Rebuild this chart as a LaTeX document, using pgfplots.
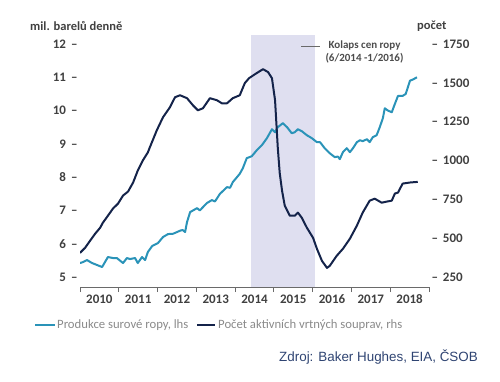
\documentclass[border=0pt]{standalone}
\usepackage{fontspec}
\setmainfont{Carlito}
\newfontfamily\arialfont{Liberation Sans}
\usepackage{pgfplots}
\pgfplotsset{compat=1.18}
\definecolor{prodblue}{HTML}{2A93B8}
\definecolor{rignavy}{HTML}{14234A}
\definecolor{shadecol}{HTML}{DFDFF0}
\definecolor{ticktext}{HTML}{404040}
\definecolor{legtext}{HTML}{8A8A8A}
\definecolor{srccol}{HTML}{2F4472}
\definecolor{axiscol}{HTML}{6A6A6A}

\pgfplotstableread{
x y
2010.00 5.42
2010.08 5.45
2010.18 5.51
2010.31 5.42
2010.44 5.36
2010.57 5.30
2010.72 5.60
2010.85 5.57
2010.95 5.57
2011.11 5.42
2011.21 5.57
2011.29 5.54
2011.42 5.57
2011.49 5.42
2011.60 5.60
2011.68 5.51
2011.75 5.75
2011.86 5.93
2012.01 6.02
2012.14 6.20
2012.27 6.29
2012.40 6.30
2012.50 6.35
2012.60 6.40
2012.65 6.41
2012.71 6.35
2012.76 6.65
2012.84 6.95
2013.02 7.07
2013.09 7.00
2013.27 7.22
2013.40 7.31
2013.48 7.27
2013.61 7.50
2013.79 7.70
2013.87 7.68
2013.94 7.85
2014.12 8.10
2014.20 8.27
2014.30 8.57
2014.43 8.63
2014.56 8.81
2014.69 8.96
2014.82 9.17
2014.95 9.44
2015.03 9.35
2015.10 9.50
2015.23 9.62
2015.34 9.50
2015.46 9.32
2015.54 9.35
2015.62 9.44
2015.72 9.38
2015.85 9.26
2015.98 9.17
2016.11 9.05
2016.19 9.05
2016.31 8.87
2016.44 8.72
2016.57 8.60
2016.65 8.62
2016.70 8.54
2016.78 8.75
2016.88 8.87
2016.96 8.75
2017.04 8.87
2017.14 9.05
2017.22 9.11
2017.29 9.08
2017.40 9.14
2017.47 9.05
2017.55 9.20
2017.65 9.26
2017.73 9.50
2017.81 9.77
2017.86 10.07
2017.94 10.00
2018.04 9.95
2018.12 10.20
2018.20 10.44
2018.32 10.44
2018.40 10.50
2018.51 10.90
2018.58 10.93
2018.69 11.00
}\prodtable

\pgfplotstableread{
x y
2010.00 405
2010.13 437
2010.26 483
2010.39 528
2010.52 567
2010.59 599
2010.72 644
2010.85 690
2010.98 722
2011.11 774
2011.24 800
2011.37 858
2011.49 935
2011.62 1000
2011.75 1052
2011.80 1084
2011.98 1194
2012.14 1278
2012.32 1343
2012.45 1407
2012.58 1420
2012.76 1401
2012.91 1356
2013.04 1323
2013.17 1336
2013.35 1401
2013.53 1388
2013.66 1368
2013.79 1368
2013.94 1401
2014.12 1420
2014.25 1498
2014.36 1530
2014.54 1560
2014.72 1588
2014.85 1569
2014.95 1530
2015.03 1388
2015.10 1084
2015.15 920
2015.21 806
2015.28 709
2015.41 644
2015.54 644
2015.62 664
2015.72 631
2015.85 567
2016.01 502
2016.11 431
2016.24 353
2016.37 308
2016.44 321
2016.62 386
2016.78 431
2016.96 496
2017.14 580
2017.29 664
2017.47 741
2017.60 754
2017.78 728
2017.91 735
2018.04 741
2018.12 787
2018.20 793
2018.32 851
2018.51 858
2018.71 862
}\rigtable

\begin{document}
\begin{tikzpicture}[x=1pt,y=1pt]
\pgfplotsset{
  common/.style={
    at={(80pt,94pt)}, anchor=south west, scale only axis,
    width=349pt, height=252pt,
    xmin=2010, xmax=2019,
    /pgf/number format/assume math mode=true,
    /pgf/number format/1000 sep={},
    ticklabel style={font=\fontsize{13}{15}\selectfont\bfseries, text=ticktext},
    tick align=outside, major tick length=5pt,
  }}
\begin{axis}[common,
  ymin=4.7, ymax=12.27,
  axis x line*=bottom, axis y line*=left,
  y axis line style={draw=none},
  x axis line style={draw=axiscol, line width=0.8pt, -},
  xtick={2010,2011,2012,2013,2014,2015,2016,2017,2018,2019},
  x tick label as interval,
  xticklabels={2010,2011,2012,2013,2014,2015,2016,2017,2018},
  xtick style={draw=axiscol, line width=0.8pt},
  xticklabel style={yshift=1pt},
  ytick={5,6,7,8,9,10,11,12}, ytick style={draw=none},
  yticklabel={\pgfmathprintnumber{\tick}\hspace{5pt}\textendash},
  yticklabel style={anchor=east, xshift=6pt},
]
\addplot[draw=none, fill=shadecol] coordinates {(2014.42,4.7) (2016.07,4.7) (2016.07,12.27) (2014.42,12.27)} -- cycle;
\addplot[prodblue, line width=2pt, line join=round] table[x=x,y=y] {\prodtable};
\end{axis}
\begin{axis}[common,
  ymin=185, ymax=1808,
  axis y line*=right, axis x line=none,
  y axis line style={draw=none},
  ytick={250,500,750,1000,1250,1500,1750}, ytick style={draw=none},
  yticklabel={\textendash\hspace{5pt}\pgfmathprintnumber{\tick}},
  yticklabel style={anchor=west, xshift=-6pt},
]
\addplot[rignavy, line width=2pt, line join=round] table[x=x,y=y] {\rigtable};
\end{axis}

% axis titles
\node[anchor=west, inner sep=0pt, font=\fontsize{12.5}{14}\selectfont\bfseries, text=ticktext] at (30,355) {mil. barelů denně};
\node[anchor=west, inner sep=0pt, font=\fontsize{12.5}{14}\selectfont\bfseries, text=ticktext] at (417,355) {počet};

% annotation
\draw[axiscol, line width=0.8pt] (301,335) -- (320,335);
\node[align=center, inner sep=0pt, font=\fontsize{11}{13}\selectfont\bfseries, text=black!70] at (364.5,329.5) {Kolaps cen ropy\\(6/2014 -1/2016)};

% legend
\draw[prodblue, line width=2pt] (35,56) -- (55,56);
\node[anchor=west, inner sep=0pt, font=\fontsize{12.7}{14}\selectfont, text=legtext] at (57,56) {Produkce surové ropy, lhs};
\draw[rignavy, line width=2pt] (197,56) -- (215,56);
\node[anchor=west, inner sep=0pt, font=\fontsize{12.7}{14}\selectfont, text=legtext] at (218,56) {Počet aktivních vrtných souprav, rhs};

% source
\node[anchor=east, inner sep=0pt, font=\arialfont\fontsize{13.4}{15}\selectfont, text=srccol] at (478,24) {Zdroj: Baker Hughes, EIA, ČSOB};

\pgfresetboundingbox
\path (0,0) rectangle (500,381);
\end{tikzpicture}
\end{document}
